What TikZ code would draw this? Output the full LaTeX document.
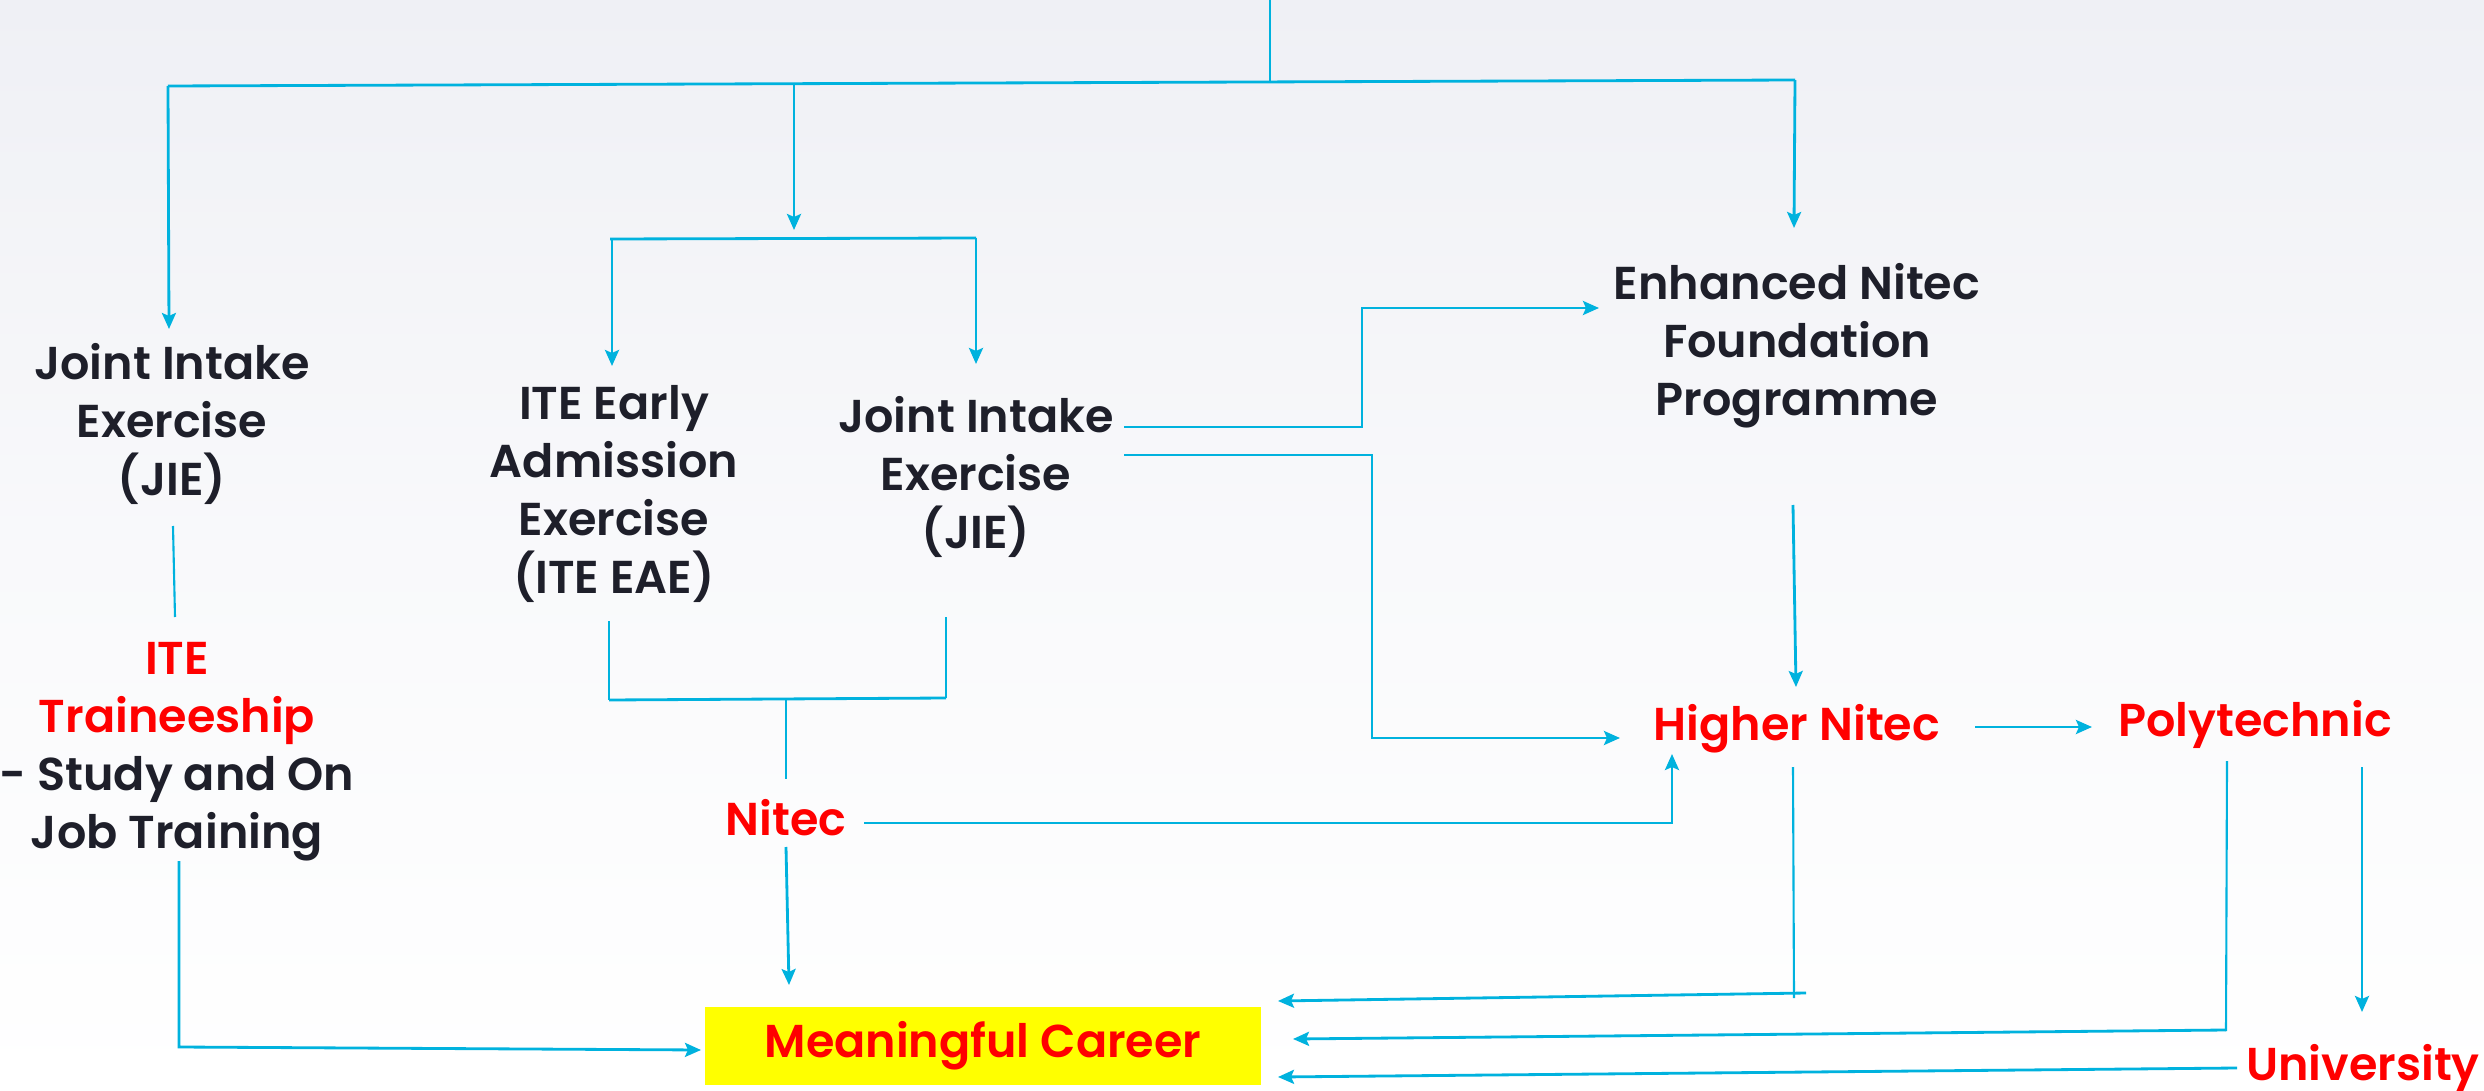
\documentclass[tikz,border=0pt]{standalone}
\usepackage{fontspec}
\newfontfamily\popsb{Poppins SemiBold}
\usetikzlibrary{arrows.meta,calc}
\definecolor{ink}{RGB}{30,31,42}
\definecolor{hotred}{RGB}{255,0,0}
\definecolor{cyanl}{RGB}{0,178,222}
\definecolor{bgtop}{RGB}{239,240,245}
\definecolor{boxyellow}{RGB}{255,255,0}
\tikzset{
  lbl/.style={font=\popsb\fontsize{13.1}{16.4}\selectfont, text=ink, align=center, inner sep=0pt, anchor=base},
  hot/.style={lbl, text=hotred},
  ln/.style={draw=cyanl, line width=0.8pt},
  thin/.style={draw=cyanl, line width=0.6pt},
  arr/.style={ln, -{Stealth[length=0.16cm,width=0.14cm,inset=0.03cm]}},
}
\begin{document}
\begin{tikzpicture}[x=0.01cm,y=-0.01cm]
\useasboundingbox (0,0) rectangle (2484,1091);
\shade[top color=bgtop, bottom color=white, middle color=white!60!bgtop] (0,0) rectangle (2484,1091);

% nodes (base anchor = baseline of last line)
\node[lbl] (jie1) at (172,495) {Joint Intake\\Exercise\\(JIE)};
\node[lbl] (eae) at (614,593) {ITE Early\\Admission\\Exercise\\(ITE EAE)};
\node[lbl] (jie2) at (976,548) {Joint Intake\\Exercise\\(JIE)};
\node[lbl] (enfp) at (1797,415) {Enhanced Nitec\\Foundation\\Programme};
\node[lbl] (ite) at (177,848) {\textcolor{hotred}{ITE}\\\textcolor{hotred}{Traineeship}\\- Study and On\\Job Training};
\node[hot] (nitec) at (786,835) {Nitec};
\node[hot] (hn) at (1797,740) {Higher Nitec};
\node[hot] (poly) at (2255,736) {Polytechnic};
\node[hot] (uni) at (2363,1080) {University};
\node[hot, anchor=center, fill=boxyellow, minimum width=5.56cm, minimum height=0.78cm] (career) at (983,1046) {Meaningful Career};

% connector points
\coordinate (src) at (1270,0);
\coordinate (j0) at (1270,83);
\coordinate (hl) at (168,86);
\coordinate (hr) at (1795,80);
\coordinate (jm) at (794,83);
\coordinate (sl) at (610,239);
\coordinate (sr) at (976,238);

% top tree
\draw[thin] (src) -- (j0);
\draw[ln] (hl) -- (hr);
\draw[arr] (hl) -- (169,329);
\draw[arr] (jm) -- (794,230);
\draw[arr] (hr) -- (1794,228);
\draw[ln] (sl) -- (sr);
\draw[arr] (612,239) -- (612,366);
\draw[arr] (sr) -- (976,364);

% JIE -> ITE traineeship
\draw[thin] (173,526) -- (175,617);

% EAE / JIE join -> Nitec
\coordinate (ja) at (609,700);
\coordinate (jb) at (946,698);
\draw[thin] (609,621) -- (ja);
\draw[thin] (946,617) -- (jb);
\draw[ln] (ja) -- (jb);
\draw[thin] (786,699) -- (786,779);

% Nitec -> career
\draw[arr] (786,847) -- (789,985);

% ITE traineeship -> career
\draw[arr] (179,861) -- (179,1047) -- (701,1050);

% JIE -> ENFP
\draw[arr] (1124,427) -- (1362,427) -- (1362,308) -- (1599,308);
% JIE -> Higher Nitec
\draw[arr] (1124,455) -- (1372,455) -- (1372,738) -- (1620,738);

% ENFP -> Higher Nitec
\draw[arr] (1793,505) -- (1796,687);

% Nitec -> Higher Nitec
\draw[arr] (864,823) -- (1672,823) -- (1672,754);

% Higher Nitec -> Polytechnic
\draw[arr] (1975,727) -- (2092,727);

% Higher Nitec -> career
\draw[thin] (1793,767) -- (1794,998);
\draw[arr] (1806,993) -- (1278,1001);

% Polytechnic -> career
\draw[thin] (2227,761) -- (2226,1031);
\draw[arr] (2226,1030) -- (1293,1039);

% Polytechnic -> University
\draw[arr] (2362,767) -- (2362,1012);

% University -> career
\draw[arr] (2237,1068) -- (1278,1077);
\end{tikzpicture}
\end{document}
